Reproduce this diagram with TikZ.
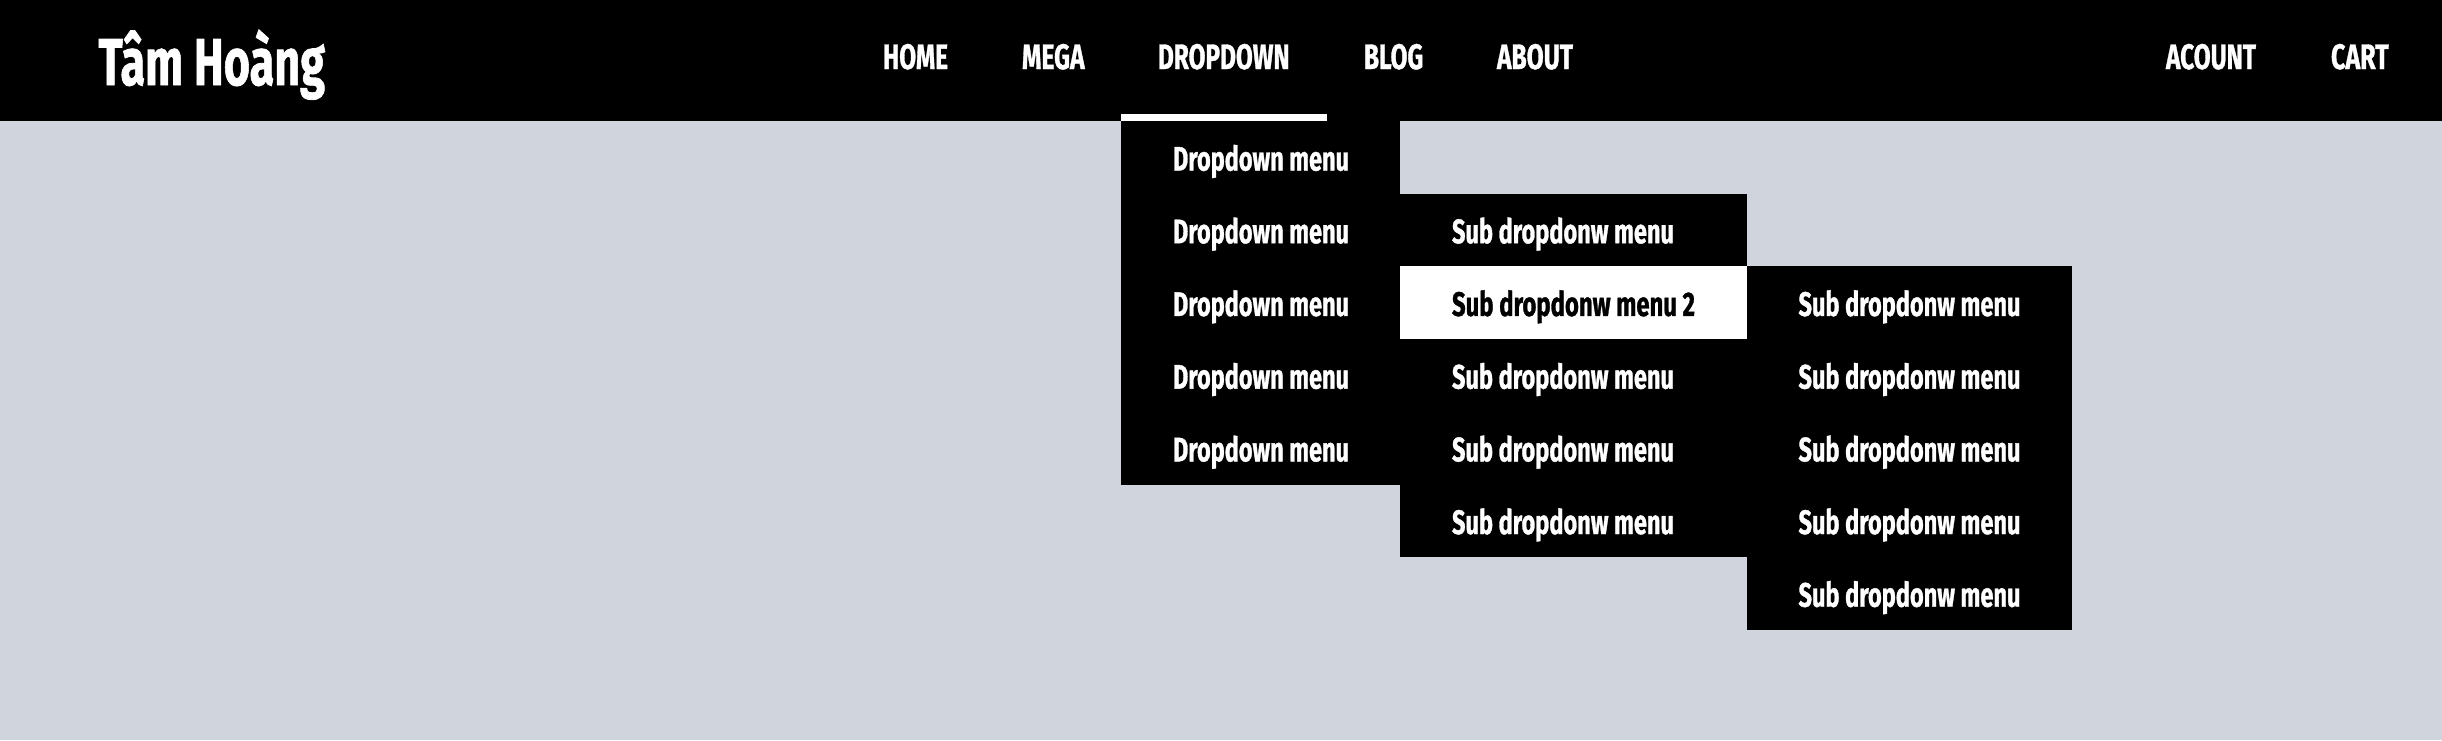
\documentclass[tikz,border=0pt]{standalone}
\usepackage{fontspec}
\setmainfont{Fira Sans}[BoldFeatures={FakeBold=1.2}]
\usetikzlibrary{calc}
\definecolor{pagebg}{RGB}{208,212,220}
\newsavebox\fitbox
\newsavebox\fitcap
\newcommand\fittext[3]{\sbox\fitbox{#3}\sbox\fitcap{H}%
  \pgfmathsetmacro\fitsx{#1/\the\wd\fitbox}%
  \pgfmathsetmacro\fitsy{#2/\the\ht\fitcap}%
  \scalebox{\fitsx}[\fitsy]{\usebox\fitbox}}
\tikzset{
  lbl/.style={anchor=base west, inner sep=0pt, outer sep=0pt, text=white,
    font=\bfseries\fontsize{30}{30}\selectfont},
  menubox/.style={fill=black, anchor=north west, inner sep=0pt, outer sep=0pt,
    minimum height=72.7pt},
}
\begin{document}
\begin{tikzpicture}[x=1pt,y=-1pt]
\useasboundingbox (0,0) rectangle (2442,740);
\fill[pagebg] (0,0) rectangle (2442,740);
% header bar
\node[fill=black, anchor=north west, inner sep=0pt, outer sep=0pt,
  minimum width=2442pt, minimum height=121pt] (header) at (0,0) {};
\node[fill=white, anchor=north west, inner sep=0pt, outer sep=0pt,
  minimum width=206pt, minimum height=7pt] (ddbar) at (1121,114) {};
% logo
\node[lbl] (logo) at (98.5,85) {\fittext{226.5}{46}{Tâm Hoàng}};
% navigation
\node[lbl] (home) at (883,69) {\fittext{65}{24.5}{HOME}};
\node[lbl] (mega) at (1022,69) {\fittext{62.6}{24.5}{MEGA}};
\node[lbl] (dropdown) at (1158,69) {\fittext{131.6}{24.5}{DROPDOWN}};
\node[lbl] (blog) at (1364,69) {\fittext{59.2}{24.5}{BLOG}};
\node[lbl] (about) at (1497,69) {\fittext{76}{24.5}{ABOUT}};
\node[lbl] (acount) at (2166,69) {\fittext{90}{24.5}{ACOUNT}};
\node[lbl] (cart) at (2331,69) {\fittext{57.7}{24.5}{CART}};
% column 1
\foreach \i in {0,...,4}{
  \node[menubox, minimum width=279pt] (c1-\i) at (1121,121+72.7*\i) {};
  \node[lbl] (t1-\i) at (1173,121+72.7*\i+49.5) {\fittext{176}{23.5}{Dropdown menu}};
}
% column 2
\foreach \i in {1,3,4,5}{
  \node[menubox, minimum width=347pt] (c2-\i) at (1400,121+72.7*\i) {};
  \node[lbl] (t2-\i) at (1452,121+72.7*\i+49.5) {\fittext{222}{23.5}{Sub dropdonw menu}};
}
\node[menubox, fill=white, minimum width=347pt] (c2-2) at (1400,121+72.7*2) {};
\node[lbl, text=black] (t2-2) at (1452,121+72.7*2+49.5) {\fittext{243}{23.5}{Sub dropdonw menu 2}};
% column 3
\foreach \i in {2,...,6}{
  \node[menubox, minimum width=325pt] (c3-\i) at (1747,121+72.7*\i) {};
  \node[lbl] (t3-\i) at (1798.5,121+72.7*\i+49.5) {\fittext{222}{23.5}{Sub dropdonw menu}};
}
\end{tikzpicture}
\end{document}
